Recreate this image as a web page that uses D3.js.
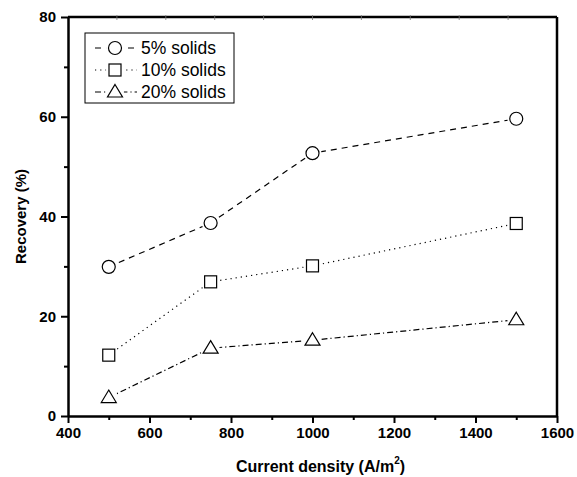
<!DOCTYPE html>
<html>
<head>
<meta charset="utf-8">
<script src="https://cdn.jsdelivr.net/npm/d3@7"></script>
<style>
  body { margin: 0; background: #fff; }
  svg, svg text { font-family: Arial, "Liberation Sans", sans-serif; }
</style>
</head>
<body>
<div id="chart"></div>
<script>
var svgWidth = 577;
var svgHeight = 477;

var margin = { top: 17, right: 20, bottom: 61, left: 68 };
var width = svgWidth - margin.left - margin.right;
var height = svgHeight - margin.top - margin.bottom;

// data
var currentDensity = [500, 750, 1000, 1500];
var solids5 = [29.9, 38.7, 52.7, 59.6];
var solids10 = [12.2, 26.9, 30.1, 38.6];
var solids20 = [3.7, 13.6, 15.2, 19.3];
var seriesNames = ["5% solids", "10% solids", "20% solids"];
var xTicks = [400, 600, 800, 1000, 1200, 1400, 1600];
var yTicks = [0, 20, 40, 60, 80];

var series = [
  { name: seriesNames[0], values: solids5, dash: "6,5", marker: "circle" },
  { name: seriesNames[1], values: solids10, dash: "1.2,4", marker: "square" },
  { name: seriesNames[2], values: solids20, dash: "6,3,1.2,3", marker: "triangle" }
];

var svg = d3.select("#chart")
  .append("svg")
  .attr("width", svgWidth)
  .attr("height", svgHeight);

var chartGroup = svg.append("g")
  .attr("transform", `translate(${margin.left}, ${margin.top})`);

var xScale = d3.scaleLinear().domain([400, 1600]).range([0, width]);
var yScale = d3.scaleLinear().domain([0, 80]).range([height, 0]);

// minor ticks
var xMinor = d3.range(500, 1600, 200);
var yMinor = d3.range(10, 80, 20);

chartGroup.append("g")
  .attr("transform", `translate(0, ${height})`)
  .call(d3.axisBottom(xScale).tickValues(xMinor).tickSize(4).tickFormat(""))
  .call(g => g.select(".domain").remove())
  .selectAll("line").attr("stroke-width", 2);

chartGroup.append("g")
  .call(d3.axisLeft(yScale).tickValues(yMinor).tickSize(4).tickFormat(""))
  .call(g => g.select(".domain").remove())
  .selectAll("line").attr("stroke-width", 2);

// major axes
var xAxis = chartGroup.append("g")
  .attr("transform", `translate(0, ${height})`)
  .call(d3.axisBottom(xScale).tickValues(xTicks).tickFormat(d3.format("d"))
    .tickSize(7).tickSizeOuter(0).tickPadding(4));

var yAxis = chartGroup.append("g")
  .call(d3.axisLeft(yScale).tickValues(yTicks).tickFormat(d3.format("d"))
    .tickSize(7).tickSizeOuter(0).tickPadding(5));

[xAxis, yAxis].forEach(function(ax) {
  ax.attr("font-family", null).attr("font-size", null);
  ax.selectAll("line").attr("stroke-width", 2);
  ax.select(".domain").attr("stroke-width", 2.5);
  ax.selectAll("text")
    .style("font-size", "15px")
    .style("font-weight", "bold")
    .attr("fill", "#000");
});

// top and right frame
chartGroup.append("line")
  .attr("x1", 0).attr("x2", width).attr("y1", 0).attr("y2", 0)
  .attr("stroke", "#000").attr("stroke-width", 2.5);
chartGroup.append("line")
  .attr("x1", width).attr("x2", width).attr("y1", 0).attr("y2", height)
  .attr("stroke", "#000").attr("stroke-width", 2.5);

// faint marks on top edge
chartGroup.selectAll(".topmark")
  .data(d3.range(1, 10))
  .enter()
  .append("line")
  .attr("x1", d => d * width / 10)
  .attr("x2", d => d * width / 10)
  .attr("y1", -2).attr("y2", 3)
  .attr("stroke", "#777").attr("stroke-width", 0.8);

// lines
var line = d3.line()
  .x((d, i) => xScale(currentDensity[i]))
  .y(d => yScale(d));

function drawMarker(g, type, x, y) {
  if (type === "circle") {
    g.append("circle").attr("cx", x).attr("cy", y).attr("r", 6.5)
      .attr("fill", "#fff").attr("stroke", "#000").attr("stroke-width", 1.2);
  } else if (type === "square") {
    g.append("rect").attr("x", x - 6).attr("y", y - 6).attr("width", 12).attr("height", 12)
      .attr("fill", "#fff").attr("stroke", "#000").attr("stroke-width", 1.2);
  } else {
    g.append("path")
      .attr("d", `M${x},${y - 7.5}L${x + 7.5},${y + 5}L${x - 7.5},${y + 5}Z`)
      .attr("fill", "#fff").attr("stroke", "#000").attr("stroke-width", 1.2);
  }
}

series.forEach(function(s) {
  chartGroup.append("path")
    .datum(s.values)
    .attr("d", line)
    .attr("fill", "none")
    .attr("stroke", "#000")
    .attr("stroke-width", 1.2)
    .attr("stroke-dasharray", s.dash);

  var mg = chartGroup.append("g");
  s.values.forEach(function(v, i) {
    // small white halo so the line stops short of the marker
    mg.append("circle").attr("cx", xScale(currentDensity[i])).attr("cy", yScale(v))
      .attr("r", 9).attr("fill", "#fff");
  });
  s.values.forEach(function(v, i) {
    drawMarker(mg, s.marker, xScale(currentDensity[i]), yScale(v));
  });
});

// legend
var legend = svg.append("g").attr("transform", "translate(85, 33)");
legend.append("rect")
  .attr("width", 149).attr("height", 70)
  .attr("fill", "#fff").attr("stroke", "#000").attr("stroke-width", 1);

series.forEach(function(s, i) {
  var ly = 15 + i * 22;
  var row = legend.append("g");
  row.append("line")
    .attr("x1", 10).attr("x2", 52).attr("y1", ly).attr("y2", ly)
    .attr("stroke", "#000").attr("stroke-width", 1.2)
    .attr("stroke-dasharray", s.dash);
  row.append("circle").attr("cx", 30).attr("cy", ly).attr("r", 9).attr("fill", "#fff");
  drawMarker(row, s.marker, 30, ly);
  row.append("text")
    .attr("x", 56).attr("y", ly + 6)
    .style("font-size", "17.5px")
    .text(s.name);
});

// axis titles
svg.append("text")
  .attr("transform", `translate(26, ${margin.top + height / 2}) rotate(-90)`)
  .attr("text-anchor", "middle")
  .style("font-size", "15px")
  .style("font-weight", "bold")
  .text("Recovery (%)");

var xTitle = svg.append("text")
  .attr("x", margin.left + width / 2 + 8)
  .attr("y", 472)
  .attr("text-anchor", "middle")
  .style("font-size", "16px")
  .style("font-weight", "bold");
xTitle.append("tspan").text("Current density (A/m");
xTitle.append("tspan").style("font-size", "10px").attr("dy", -8).text("2");
xTitle.append("tspan").attr("dy", 8).text(")");
</script>
</body>
</html>
